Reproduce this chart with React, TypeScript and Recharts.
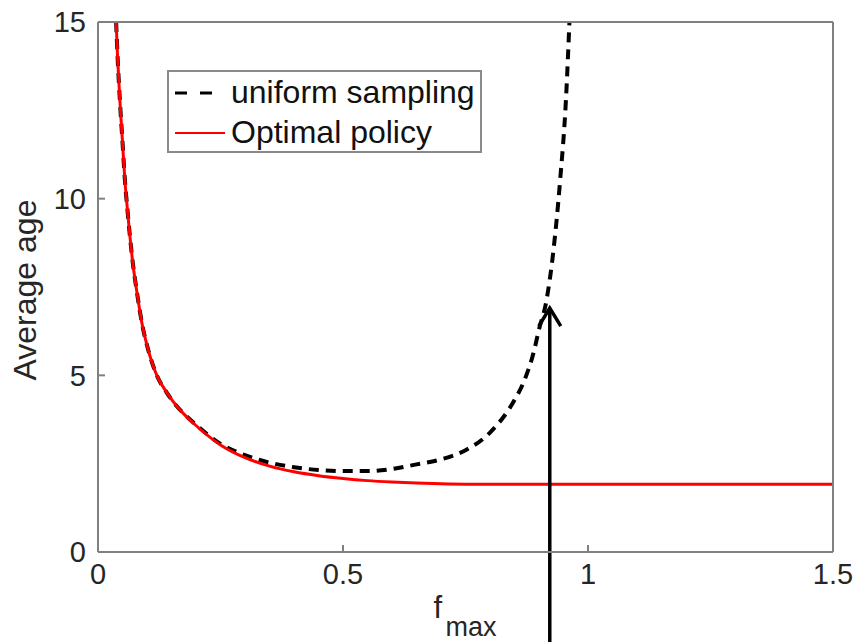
import React from "react";
import { Legend, Line, LineChart, ReferenceLine, XAxis, YAxis } from "recharts";

// f_max values and average age
const optimalF = [
  0.037, 0.04, 0.045, 0.05, 0.055, 0.06, 0.07, 0.08, 0.09, 0.1, 0.12, 0.14, 0.16, 0.18, 0.2, 0.25,
  0.3, 0.35, 0.4, 0.45, 0.5, 0.55, 0.6, 0.65, 0.7, 0.75, 0.8, 0.9, 1.0, 1.2, 1.5,
];
const optimalAge = [
  15, 14.0, 12.7, 11.6, 10.5, 9.7, 8.3, 7.3, 6.45, 5.85, 5.0, 4.52, 4.14, 3.84, 3.58, 3.03, 2.67,
  2.43, 2.27, 2.16, 2.08, 2.02, 1.98, 1.95, 1.93, 1.92, 1.92, 1.92, 1.92, 1.92, 1.92,
];

const uniformF = [
  0.037, 0.04, 0.045, 0.05, 0.055, 0.06, 0.07, 0.08, 0.09, 0.1, 0.12, 0.14, 0.16, 0.18, 0.2, 0.25,
  0.3, 0.35, 0.4, 0.45, 0.5, 0.55, 0.6, 0.65, 0.7, 0.75, 0.8, 0.85, 0.87, 0.89, 0.9, 0.915, 0.93,
  0.943, 0.955, 0.963,
];
const uniformAge = [
  15, 14.0, 12.7, 11.6, 10.5, 9.7, 8.3, 7.3, 6.45, 5.85, 5.0, 4.52, 4.14, 3.85, 3.6, 3.06, 2.74,
  2.53, 2.4, 2.32, 2.29, 2.29, 2.35, 2.48, 2.62, 2.88, 3.38, 4.3, 4.85, 5.7, 6.3, 7.1, 8.6, 10.5,
  12.8, 15.3,
];

const seriesNames = ["uniform sampling", "Optimal policy"];

const xTicks = [0, 0.5, 1, 1.5];
const yTicks = [0, 5, 10, 15];

// arrow annotation (f_max position, from below the axis up to the curve)
const arrowF = 0.922;
const arrowFrom = -2.6;
const arrowTo = 6.9;

const optimalData = optimalF.map((f, i) => ({ f, age: optimalAge[i] }));
const uniformData = uniformF.map((f, i) => ({ f, age: uniformAge[i] }));

const FONT = '"Liberation Sans", Arial, Helvetica, sans-serif';
const AXIS = "#808080";
const TEXT = "#262626";

function ArrowShape(props: any) {
  const { x1, y1, x2, y2 } = props;
  const tipY = Math.min(y1, y2);
  const baseY = Math.max(y1, y2);
  const x = x1;
  return (
    <g>
      <line x1={x} y1={baseY} x2={x} y2={tipY} stroke="#000" strokeWidth={3.5} />
      <polyline
        points={`${x - 11},${tipY + 18} ${x},${tipY} ${x + 11},${tipY + 18}`}
        fill="none"
        stroke="#000"
        strokeWidth={3.5}
      />
    </g>
  );
}

function LegendBox({ payload }: any) {
  const items = (payload || [])
    .filter((it: any) => seriesNames.includes(it.value))
    .sort((a: any, b: any) => seriesNames.indexOf(a.value) - seriesNames.indexOf(b.value));
  return (
    <div
      style={{
        border: "2px solid #8a8a8a",
        background: "#fff",
        width: 311,
        height: 79,
        boxSizing: "content-box",
        fontFamily: FONT,
        fontSize: 32,
        color: "#111",
      }}
    >
      {items.map((it: any) => {
        const dashed = !!(it.payload && it.payload.strokeDasharray);
        return (
          <div key={it.value} style={{ display: "flex", alignItems: "center", height: 39, marginTop: 1 }}>
            <svg width={58} height={20} style={{ marginLeft: 4 }}>
              {dashed ? (
                <line x1={2} y1={10} x2={42} y2={10} stroke="#000" strokeWidth={3} strokeDasharray="12 13" />
              ) : (
                <line x1={2} y1={10} x2={52} y2={10} stroke={it.color} strokeWidth={2} />
              )}
            </svg>
            <span style={{ lineHeight: "39px" }}>{it.value}</span>
          </div>
        );
      })}
    </div>
  );
}

function YLabel({ viewBox }: any) {
  const x = viewBox.x - 12;
  const y = viewBox.y + viewBox.height / 2 + 3;
  return (
    <text
      x={x}
      y={y}
      transform={`rotate(-90, ${x}, ${y})`}
      textAnchor="middle"
      fontFamily={FONT}
      fontSize={32}
      fill={TEXT}
    >
      Average age
    </text>
  );
}

function XLabel({ viewBox }: any) {
  const cx = viewBox.x + viewBox.width / 2;
  return (
    <text fontFamily={FONT} fill={TEXT}>
      <tspan x={cx - 32} y={viewBox.y + 66} fontSize={31}>
        f
      </tspan>
      <tspan x={cx - 20} y={viewBox.y + 84} fontSize={27}>
        max
      </tspan>
    </text>
  );
}

export default function App() {
  const tickStyle = { fontSize: 29, fill: TEXT, fontFamily: FONT };
  return (
    <div style={{ position: "absolute", left: 0, top: 0, width: 859, height: 642, background: "#fff" }}>
      <LineChart width={859} height={642} margin={{ top: 12, right: 16, bottom: 50, left: 48 }}>
        <XAxis
          xAxisId="top"
          orientation="top"
          dataKey="f"
          type="number"
          domain={[0, 1.5]}
          ticks={xTicks}
          height={10}
          tick={false}
          tickSize={-7}
          stroke={AXIS}
          strokeWidth={2}
          allowDataOverflow
        />
        <YAxis
          yAxisId="right"
          orientation="right"
          type="number"
          domain={[0, 15]}
          ticks={yTicks}
          width={10}
          tick={false}
          tickSize={-7}
          stroke={AXIS}
          strokeWidth={2}
          allowDataOverflow
        />
        <XAxis
          dataKey="f"
          type="number"
          domain={[0, 1.5]}
          ticks={xTicks}
          height={40}
          tickSize={-7}
          tickMargin={18}
          tick={tickStyle}
          stroke={AXIS}
          strokeWidth={2}
          allowDataOverflow
          label={{ content: XLabel }}
        />
        <YAxis
          type="number"
          domain={[0, 15]}
          ticks={yTicks}
          width={50}
          tickSize={-7}
          tickMargin={19}
          tick={tickStyle}
          stroke={AXIS}
          strokeWidth={2}
          allowDataOverflow
          label={{ content: YLabel }}
        />
        <Legend
          layout="vertical"
          align="center"
          verticalAlign="middle"
          content={LegendBox}
          wrapperStyle={{ position: "absolute", left: 167, top: 70, width: 315, height: 83 }}
        />
        {/* invisible series so the mirrored top/right axes (box frame) get drawn */}
        <Line
          data={optimalData}
          dataKey="age"
          xAxisId="top"
          yAxisId="right"
          stroke="none"
          dot={false}
          activeDot={false}
          legendType="none"
          isAnimationActive={false}
        />
        <Line
          data={uniformData}
          dataKey="age"
          name="uniform sampling"
          type="monotone"
          stroke="#000"
          strokeWidth={4}
          strokeDasharray="10 7"
          dot={false}
          activeDot={false}
          isAnimationActive={false}
        />
        <Line
          data={optimalData}
          dataKey="age"
          name="Optimal policy"
          type="monotone"
          stroke="#ff0000"
          strokeWidth={3}
          dot={false}
          activeDot={false}
          isAnimationActive={false}
        />
        <ReferenceLine
          segment={[
            { x: arrowF, y: arrowFrom },
            { x: arrowF, y: arrowTo },
          ]}
          ifOverflow="visible"
          stroke="#000"
          shape={ArrowShape}
        />
      </LineChart>
    </div>
  );
}
